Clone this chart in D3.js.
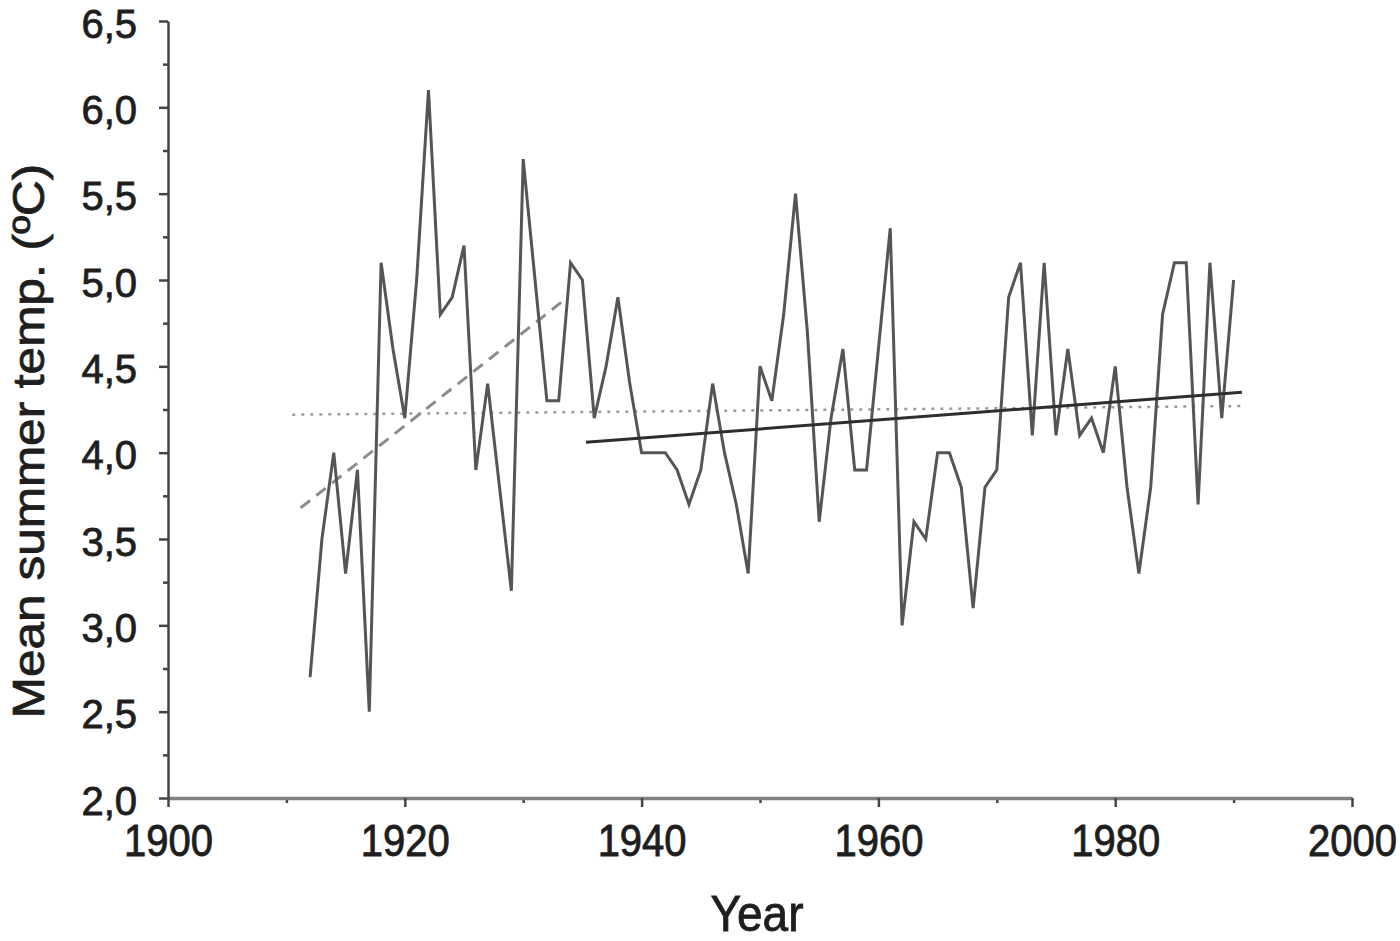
<!DOCTYPE html>
<html>
<head>
<meta charset="utf-8">
<script src="https://cdn.jsdelivr.net/npm/d3@7"></script>
<style>
  html, body { margin: 0; padding: 0; background: #fff; }
  svg { display: block; }
  text { font-family: "Liberation Sans", Arial, sans-serif; fill: #1e1e1e; }
</style>
</head>
<body>
<div id="chart-holder"></div>
<script>
// DATA
var years = d3.range(1912, 1991);
var temps = [
    2.7, 3.5, 4.0, 3.3, 3.9, 2.5, 5.1, 4.6, 4.2, 5.0,  // 1912-1921
    6.1, 4.8, 4.9, 5.2, 3.9, 4.4, 3.8, 3.2, 5.7, 5.0,  // 1922-1931
    4.3, 4.3, 5.1, 5.0, 4.2, 4.5, 4.9, 4.4, 4.0, 4.0,  // 1932-1941
    4.0, 3.9, 3.7, 3.9, 4.4, 4.0, 3.7, 3.3, 4.5, 4.3,  // 1942-1951
    4.8, 5.5, 4.7, 3.6, 4.2, 4.6, 3.9, 3.9, 4.6, 5.3,  // 1952-1961
    3.0, 3.6, 3.5, 4.0, 4.0, 3.8, 3.1, 3.8, 3.9, 4.9,  // 1962-1971
    5.1, 4.1, 5.1, 4.1, 4.6, 4.1, 4.2, 4.0, 4.5, 3.8,  // 1972-1981
    3.3, 3.8, 4.8, 5.1, 5.1, 3.7, 5.1, 4.2, 5.0        // 1982-1990
];
// fitted lines, [year, value] end points
var earlyTrend = [[1911.2, 3.68], [1933.2, 4.87]];
var meanLine = [[1910.5, 4.22], [1990.7, 4.27]];
var lateTrend = [[1935.3, 4.06], [1990.7, 4.35]];

// tick values
var xMajor = [1900, 1920, 1940, 1960, 1980, 2000];
var xMinor = [1910, 1930, 1950, 1970, 1990];
var yMajor = [2.0, 2.5, 3.0, 3.5, 4.0, 4.5, 5.0, 5.5, 6.0, 6.5];
var yMinor = [2.25, 2.75, 3.25, 3.75, 4.25, 4.75, 5.25, 5.75, 6.25];

var w = 1400;
var h = 941;
var stretch = 1.1; // the picture text is a bit taller than wide

var svg = d3
    .select("#chart-holder")
    .append("svg")
    .attr("width", w)
    .attr("height", h);

// scales
var x = d3.scaleLinear().domain([1900, 2000]).range([168, 1352]);
var y = d3.scaleLinear().domain([2, 6.5]).range([798, 21]);

var commaFmt = function (d) { return d.toFixed(1).replace(".", ","); };

// minor ticks first
svg.append("g")
    .attr("class", "x-minor")
    .attr("transform", "translate(0," + y(2) + ")")
    .call(d3.axisBottom(x).tickValues(xMinor).tickSize(5).tickFormat(""))
    .call(g => g.select(".domain").remove());

svg.append("g")
    .attr("class", "y-minor")
    .attr("transform", "translate(" + x(1900) + ",0)")
    .call(d3.axisLeft(y).tickValues(yMinor).tickSize(5).tickFormat(""))
    .call(g => g.select(".domain").remove());

// x axis
var xAxis = svg.append("g")
    .attr("class", "x-axis")
    .attr("transform", "translate(0," + y(2) + ")")
    .call(d3.axisBottom(x).tickValues(xMajor).tickSize(9).tickSizeOuter(0).tickFormat(d3.format("d")));

xAxis.select(".domain").attr("stroke", "#808080").attr("stroke-width", 3.5);
xAxis.selectAll(".tick text")
    .attr("y", null)
    .attr("dy", null)
    .attr("transform", "translate(0,58) scale(1," + stretch + ")")
    .style("font-size", "40px");

// y axis
var yAxis = svg.append("g")
    .attr("class", "y-axis")
    .attr("transform", "translate(" + x(1900) + ",0)")
    .call(d3.axisLeft(y).tickValues(yMajor).tickSize(9).tickSizeOuter(0).tickFormat(commaFmt));

yAxis.select(".domain").attr("stroke", "#444").attr("stroke-width", 2.5);
yAxis.selectAll(".tick text")
    .attr("x", -31)
    .attr("y", 16)
    .attr("dy", null)
    .style("font-size", "40px");

svg.selectAll(".tick line").attr("stroke", "#444").attr("stroke-width", 2.5);
svg.selectAll(".tick text").attr("fill", "#1e1e1e").attr("stroke", "#1e1e1e").attr("stroke-width", 0.8);

// axis titles
svg.append("text")
    .attr("transform", "translate(757,931) scale(1," + stretch + ")")
    .attr("text-anchor", "middle")
    .attr("stroke", "#1e1e1e")
    .attr("stroke-width", 0.8)
    .style("font-size", "46px")
    .text("Year");

svg.append("text")
    .attr("transform", "translate(44,441) rotate(-90) scale(" + stretch + ",1)")
    .attr("text-anchor", "middle")
    .attr("stroke", "#1e1e1e")
    .attr("stroke-width", 0.8)
    .style("font-size", "45px")
    .text("Mean summer temp. (ºC)");

// lines
var line = d3.line()
    .x(d => x(d[0]))
    .y(d => y(d[1]));

var plot = svg.append("g").attr("class", "plot");

plot.append("path")
    .datum(meanLine)
    .attr("d", line)
    .attr("fill", "none")
    .attr("stroke", "#9a9a9a")
    .attr("stroke-width", 2.5)
    .attr("stroke-dasharray", "3,6");

plot.append("path")
    .datum(earlyTrend)
    .attr("d", line)
    .attr("fill", "none")
    .attr("stroke", "#8c8c8c")
    .attr("stroke-width", 3)
    .attr("stroke-dasharray", "12,8");

plot.append("path")
    .datum(years.map((yr, i) => [yr, temps[i]]))
    .attr("d", line)
    .attr("fill", "none")
    .attr("stroke", "#555")
    .attr("stroke-width", 3)
    .attr("stroke-linejoin", "miter");

plot.append("path")
    .datum(lateTrend)
    .attr("d", line)
    .attr("fill", "none")
    .attr("stroke", "#2e2e2e")
    .attr("stroke-width", 3);
</script>
</body>
</html>
